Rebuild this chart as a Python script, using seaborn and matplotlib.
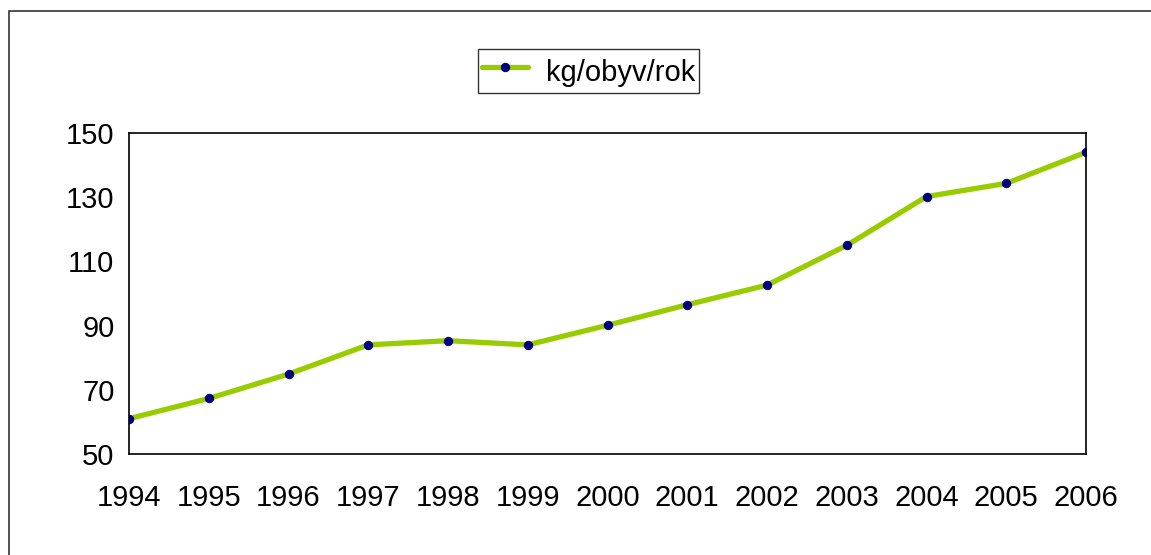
import pandas as pd
import matplotlib.pyplot as plt
import matplotlib.patches as mpatches
import seaborn as sns

years = [1994, 1995, 1996, 1997, 1998, 1999, 2000, 2001, 2002, 2003, 2004, 2005, 2006]
kg_per_person = [61.0, 67.3, 74.9, 84.0, 85.3, 84.0, 90.1, 96.5, 102.6, 115.0, 130.2, 134.3, 144.0]
series_name = "kg/obyv/rok"
y_ticks = [50, 70, 90, 110, 130, 150]

df = pd.DataFrame({"rok": years, "hodnota": kg_per_person})

sns.set_style("white")
plt.rcParams["font.family"] = ["Liberation Sans", "DejaVu Sans"]
plt.rcParams["text.color"] = "black"

fig = plt.figure(figsize=(11.51, 5.55), dpi=100)
ax = fig.add_axes([129 / 1151, 101 / 555, (1086 - 129) / 1151, (454 - 133) / 555])

sns.lineplot(data=df, x="rok", y="hodnota", ax=ax, color="#99CC00", linewidth=3.8,
             marker="o", markersize=6, markerfacecolor="#000080",
             markeredgecolor="#000080", label=series_name)

ax.set_xlim(years[0], years[-1])
ax.set_ylim(50, 150)
ax.set_xticks(years)
ax.set_yticks(y_ticks)
ax.set_xlabel("")
ax.set_ylabel("")
for s in ax.spines.values():
    s.set_color("black")
    s.set_linewidth(1.2)
ax.tick_params(axis="both", direction="out", length=6.5, width=1, color="black",
               labelsize=21, labelcolor="black")
ax.tick_params(axis="x", pad=15)
ax.tick_params(axis="y", pad=4)
for lab in ax.get_xticklabels() + ax.get_yticklabels():
    lab.set_clip_on(False)

leg = ax.legend(loc="center", bbox_to_anchor=(588.5 / 1151, 1 - 71 / 555),
                bbox_transform=fig.transFigure, fontsize=21, frameon=True,
                fancybox=False, borderpad=0.12, handlelength=1.6, handleheight=1.55,
                handletextpad=0.6)
leg.get_frame().set_edgecolor("black")
leg.get_frame().set_linewidth(1)
for t in leg.get_texts():
    t.set_color("black")

# outer chart border (clipped at right/bottom like the original)
border = mpatches.Rectangle((9 / 1151, -0.1), 1.2, (555 - 11) / 555 + 0.1,
                            transform=fig.transFigure, fill=False,
                            edgecolor="#333333", linewidth=1.2)
fig.patches.append(border)

fig.savefig("out.png", dpi=100)
